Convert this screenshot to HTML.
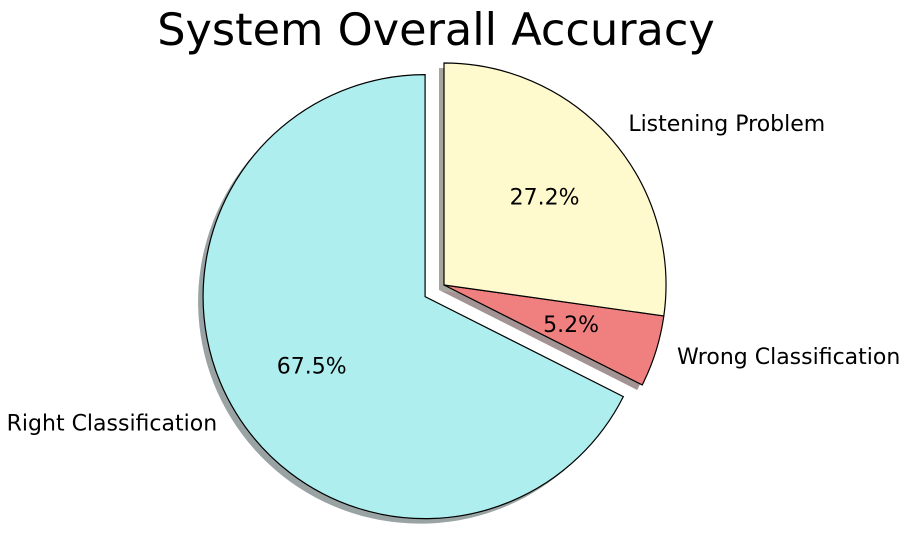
<!DOCTYPE html>
<html><head><meta charset="utf-8"><style>
body{margin:0;background:#fff;}
svg{display:block;font-family:"DejaVu Sans","Liberation Sans",sans-serif;}
</style></head><body>
<svg id="chart" width="908" height="544" viewBox="0 0 908 544">
<text x="436" y="45" font-size="44.6" text-anchor="middle">System Overall Accuracy</text>
<g id="shadows"></g><g id="wedges"></g><g id="labels"></g>
</svg>
<script>
const categories = ["Right Classification","Wrong Classification","Listening Problem"];
const values = [67.5, 5.2, 27.2];
const explode = [0.1, 0, 0];
const colors = ["#AFEEEE","#F08080","#FFFACD"];
const shadowColors = ["#9aa3a3","#a39393","#a6a59e"];
const cx=444, cy=285, R=222, NS="http://www.w3.org/2000/svg";
const total = values.reduce((a,b)=>a+b,0);
const sg=document.getElementById('shadows'), wg=document.getElementById('wedges'), lg=document.getElementById('labels');
function pt(x,y,r,a){return [x+r*Math.cos(a*Math.PI/180), y-r*Math.sin(a*Math.PI/180)];}
function path(x,y,a0,a1){
  const p0=pt(x,y,R,a0), p1=pt(x,y,R,a1), large=(a1-a0)>180?1:0;
  return `M${x},${y} L${p0[0]},${p0[1]} A${R},${R} 0 ${large} 0 ${p1[0]},${p1[1]} Z`;
}
let start=90;
const wedges=[];
values.forEach((v,i)=>{
  const sweep=v/total*360, mid=start+sweep/2;
  const off=pt(0,0,explode[i]*R,mid);
  const x=cx+off[0], y=cy+off[1];
  wedges.push({x,y,a0:start,a1:start+sweep,mid});
  start+=sweep;
});
wedges.forEach((w,i)=>{
  const s=document.createElementNS(NS,'path');
  s.setAttribute('d',path(w.x-5,w.y+5,w.a0,w.a1));
  s.setAttribute('fill',shadowColors[i]);
  
  
  sg.appendChild(s);
});
wedges.forEach((w,i)=>{
  const p=document.createElementNS(NS,'path');
  p.setAttribute('d',path(w.x,w.y,w.a0,w.a1));
  p.setAttribute('fill',colors[i]);p.setAttribute('stroke','#000');p.setAttribute('stroke-width','1.2');
  
  
  wg.appendChild(p);
  const lp=pt(w.x,w.y,1.1*R,w.mid);
  const t=document.createElementNS(NS,'text');
  t.setAttribute('x',lp[0]);t.setAttribute('y',lp[1]+6);t.setAttribute('font-size','22');
  t.setAttribute('text-anchor',Math.cos(w.mid*Math.PI/180)<0?'end':'start');
  t.textContent=categories[i];
  
  
  lg.appendChild(t);
  const pp=pt(w.x,w.y,0.6*R,w.mid);
  const u=document.createElementNS(NS,'text');
  u.setAttribute('x',pp[0]);u.setAttribute('y',pp[1]+7);u.setAttribute('font-size','22');
  u.setAttribute('text-anchor','middle');
  u.textContent=values[i].toFixed(1)+'%';
  
  
  lg.appendChild(u);
});
</script>
</body></html>
